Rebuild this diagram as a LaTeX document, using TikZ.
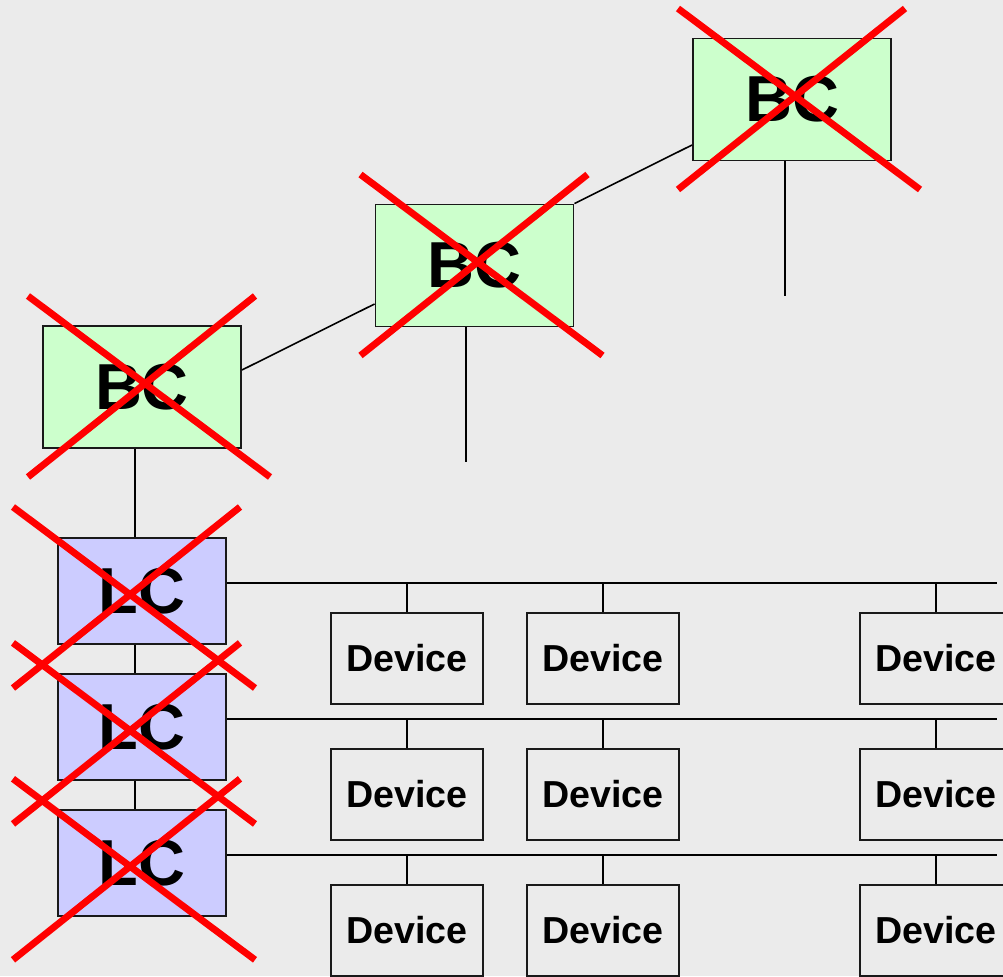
\documentclass[tikz,border=0pt]{standalone}
\usepackage{fontspec}
\setmainfont{Liberation Sans}
\usetikzlibrary{positioning}

\definecolor{bg}{HTML}{EBEBEB}
\definecolor{bcfill}{HTML}{CCFFCC}
\definecolor{lcfill}{HTML}{CCCCFF}

\begin{document}
\begin{tikzpicture}[x=0.02cm,y=-0.02cm,
    unit/.style={draw=black!90,line width=1.1pt,inner sep=0pt},
    bc/.style={unit,fill=bcfill,minimum width=3.96cm,minimum height=2.44cm,
      font=\fontsize{37}{44}\selectfont\bfseries},
    lc/.style={unit,fill=lcfill,minimum width=3.36cm,minimum height=2.12cm,
      font=\fontsize{37}{44}\selectfont\bfseries},
    dev/.style={unit,minimum width=3.04cm,minimum height=1.82cm,
      font=\fontsize{21.4}{26}\selectfont\bfseries},
    wire/.style={draw=black,line width=0.9pt},
    kill/.style={draw=red,line width=3.9pt},
    knockout/.pic={\draw[kill] (0,0) -- (242,181) (227,0) -- (0,181);}]
    \fill[bg] (0,0) rectangle (1003,976);
    \clip (0,0) rectangle (1003,976);

    \node[bc] (bc1) at (142,387)     {BC};
    \node[bc] (bc2) at (474.5,265.5) {BC};
    \node[bc] (bc3) at (792,99.5)    {BC};

    \node[lc] (lc1) at (142,591)          {LC};
    \node[lc] (lc2) [below=0.56cm of lc1] {LC};
    \node[lc] (lc3) [below=0.56cm of lc2] {LC};

    \coordinate (tail2) at ([xshift=-0.17cm]bc2.south |- 0,462);
    \coordinate (tail3) at ([xshift=-0.14cm]bc3.south |- 0,296);
    \coordinate (rim) at (997,0);

    \path[wire]
    ([yshift=0.34cm]bc1.east)   edge ([yshift=-0.77cm]bc2.west)
    (bc2.north east)            edge ([yshift=-0.91cm]bc3.west)
    ([xshift=-0.17cm]bc2.south) edge (tail2)
    ([xshift=-0.14cm]bc3.south) edge (tail3)
    ([xshift=-0.14cm]bc1.south) edge ([xshift=-0.14cm]lc1.north)
    ([xshift=-0.14cm]lc1.south) edge ([xshift=-0.14cm]lc2.north)
    ([xshift=-0.14cm]lc2.south) edge ([xshift=-0.14cm]lc3.north)
    ;

    % one bus per LC, three devices on each
    \foreach \r in {1,2,3} {
      \coordinate (bus\r) at ([yshift=0.16cm]lc\r.east);
      \draw[wire] (bus\r) -- (bus\r -| rim);
      \foreach \c/\dx in {1/265,2/461,3/794} {
        \path (lc\r) ++(\dx,67.5) node[dev] (d\r\c) {Device};
        \draw[wire] (d\r\c.north) -- (d\r\c.north |- bus\r);
      }
    }

    \pic at ([shift={(-114,-91)}]bc1.center) {knockout};
    \pic at ([shift={(-114,-91)}]bc2.center) {knockout};
    \pic at ([shift={(-114,-91)}]bc3.center) {knockout};
    \pic at ([shift={(-129,-84)}]lc1.center) {knockout};
    \pic at ([shift={(-129,-84)}]lc2.center) {knockout};
    \pic at ([shift={(-129,-84)}]lc3.center) {knockout};
\end{tikzpicture}
\end{document}
